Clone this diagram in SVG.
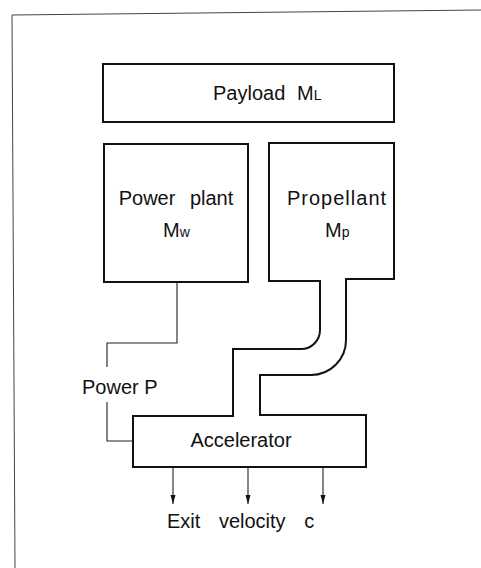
<svg xmlns="http://www.w3.org/2000/svg" width="481" height="568" viewBox="0 0 481 568">
<style>
.box{fill:none;stroke:#111;stroke-width:2;stroke-linejoin:miter}
.thin{fill:none;stroke:#222;stroke-width:1.1}
.frame{fill:none;stroke:#444;stroke-width:1}
text{font-family:"Liberation Sans",Arial,sans-serif;font-size:20px;fill:#111}
.sub{font-size:14px}
</style>
<defs>
<marker id="arr" markerWidth="10" markerHeight="6" refX="9" refY="3" orient="auto" markerUnits="userSpaceOnUse" viewBox="0 0 10 6">
<path d="M0,0.5 L9,3 L0,5.5 Z" fill="#111"/>
</marker>
</defs>
<rect width="481" height="568" fill="#fff"/>
<path class="frame" d="M481,10 L12,15 L15,568"/>
<g id="payload">
<rect class="box" x="103" y="64" width="291" height="58"/>
<text x="213" y="100">Payload <tspan x="297">M</tspan><tspan class="sub">L</tspan></text>
</g>
<g id="powerplant">
<rect class="box" x="104" y="144" width="144" height="138"/>
<text x="176" y="205" text-anchor="middle" word-spacing="9">Power plant</text>
<text x="163" y="237">M<tspan class="sub">w</tspan></text>
</g>
<g id="propellant">
<path class="box" d="M320,281 H269 V143 H394 V279 H346"/>
<text x="287" y="205" letter-spacing="1">Propellant</text>
<text x="325" y="237">M<tspan class="sub">p</tspan></text>
</g>
<g id="accelerator">
<path class="box" d="M233,416 H133 V467 H366 V415 H260"/>
<text x="241" y="447" text-anchor="middle">Accelerator</text>
</g>
<g id="connectors">
<path class="box" d="M320,280 V330 A19,19 0 0 1 301,349 H233 V417"/>
<path class="box" d="M346,278 V340 A35,35 0 0 1 311,375 H260 V416"/>
<path class="thin" d="M177,282 V343 H107 V367"/>
<path class="thin" d="M107,402 V441 H133"/>
<text x="82" y="394">Power P</text>
<line class="thin" x1="173" y1="467" x2="173" y2="504" marker-end="url(#arr)"/>
<line class="thin" x1="248" y1="467" x2="248" y2="504" marker-end="url(#arr)"/>
<line class="thin" x1="323" y1="467" x2="323" y2="504" marker-end="url(#arr)"/>
<text x="167" y="528" word-spacing="13">Exit velocity c</text>
</g>
</svg>
